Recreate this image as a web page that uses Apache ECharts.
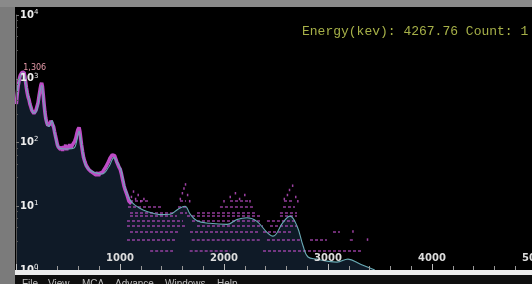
<!DOCTYPE html>
<html>
<head>
<meta charset="utf-8">
<script src="https://cdn.jsdelivr.net/npm/echarts@6/dist/echarts.min.js"></script>
<style>
html,body{margin:0;padding:0;background:#808080;}
#main{width:532px;height:284px;}
</style>
</head>
<body>
<div id="main"></div>
<script>
// 拟合曲线 (energy kev, count)
var fitCurve = [[3,410],[19,750],[45,1150],[62,1230],[77,1200],[95,820],[125,470],[150,330],[173,290],[202,330],[225,560],[247,790],[265,470],[286,230],[317,178],[346,220],[370,145],[404,86],[440,80],[500,79],[558,82],[580,100],[606,150],[625,105],[650,60],[670,44],[710,37],[750,34],[827,32],[894,42],[942,58],[975,48],[1007,38],[1040,22],[1067,16],[1115,11.5],[1190,9.3],[1260,8.3],[1385,7.4],[1481,7.5],[1558,9.0],[1625,10],[1673,7.6],[1740,5.9],[1865,5.4],[2029,5.2],[2125,6.2],[2221,6.6],[2317,5.8],[2413,3.9],[2471,3.4],[2567,5.6],[2635,7.0],[2702,4.9],[2760,2.4],[2808,1.6],[2894,1.48],[2990,1.38],[3087,1.33],[3192,1.48],[3308,1.24],[3385,1.1],[3450,1.0]];

// 实测计数 (高计数段)
var measured = [[3,400],[9,520],[15,640],[21,780],[28,900],[34,1020],[41,1130],[48,1180],[56,1250],[63,1220],[70,1306],[77,1260],[84,1100],[92,900],[100,720],[108,600],[116,520],[125,470],[134,400],[143,360],[152,320],[162,300],[172,285],[182,300],[192,320],[202,340],[212,420],[222,540],[232,680],[240,800],[247,860],[254,760],[262,560],[270,400],[278,300],[286,240],[296,205],[306,185],[316,178],[326,195],[336,220],[346,235],[354,210],[362,175],[370,150],[378,130],[388,110],[398,92],[408,84],[418,90],[428,78],[438,86],[448,74],[458,88],[468,80],[478,92],[488,76],[498,86],[508,80],[518,94],[528,82],[540,90],[552,96],[564,104],[576,118],[586,140],[596,160],[606,172],[614,150],[622,118],[630,92],[640,72],[650,58],[662,50],[674,44],[686,41],[698,38],[710,40],[722,35],[734,37],[746,33],[758,35],[770,31],[782,34],[794,30],[806,33],[818,31],[830,34],[842,36],[854,39],[866,42],[878,46],[890,50],[902,56],[914,60],[926,64],[938,66],[948,62],[958,56],[968,50],[978,46],[990,41],[1002,38],[1014,32],[1026,26],[1038,21],[1050,18],[1062,16],[1074,14],[1086,12],[1098,11.5],[1110,11]];

// 低计数段: [count, energy start, energy end]
var rowSegments = [
    [2,1290,1510],[2,1670,2060],[2,2375,3330],
    [3,1067,1530],[3,1690,2346],[3,2413,2750],[3,2827,2990],[3,3210,3240],
    [4,1096,1577],[4,1673,2346],[4,2375,2663],[4,3048,3115],
    [5,1067,1644],[5,1740,2375],[5,2442,2702],
    [6,1067,1606],[6,1692,2346],[6,2413,2702],
    [7,1096,1548],[7,1644,2346],[7,2538,2702],
    [8,1096,1510],[8,1577,1644],[8,1740,2317],[8,2538,2702],
    [10,1077,1413],[10,1558,1644],[10,1961,2279],[10,2567,2683],
    [12,1096,1288],[12,1577,1635],[12,2058,2250],[12,2577,2673]
];

var sparseDots = [[1110,14],[1130,17],[1150,13],[1175,15],[1200,12],[1230,13],[1580,13],[1600,16],[1615,19],[1630,22],[1650,15],[1670,12],[2000,12],[2060,14],[2110,16],[2150,13],[2200,15],[2250,12],[2580,13],[2610,15],[2630,18],[2660,21],[2690,14],[2710,12],[3380,3],[3240,4]];

var peak = [70, 1306];
var cursorText = 'Energy(kev): 4267.76 Count: 1';
var menuItems = ['File','View','MCA','Advance','Windows','Help'];
var menuX = [22,48,82,115,165,217];

var rowLines = [];
for (var i = 0; i < rowSegments.length; i++) {
    var s = rowSegments[i];
    rowLines.push({coords: [[s[1], s[0]], [s[2], s[0]]]});
}

var graphics = [
    {type:'rect', z:100, shape:{x:0,y:0,width:15,height:284}, style:{fill:'#7b7b7b'}},
    {type:'rect', z:100, shape:{x:0,y:0,width:532,height:7}, style:{fill:'#8a8a8a'}},
    {type:'rect', z:100, shape:{x:15,y:270,width:517,height:5}, style:{fill:'#ececec'}},
    {type:'rect', z:100, shape:{x:15,y:275,width:517,height:9}, style:{fill:'#0e0e0e'}},
    {type:'text', z:101, x:302, y:32, style:{text:cursorText, fill:'#a6b048', font:'13px "Liberation Mono"', verticalAlign:'middle'}}
];
for (var j = 0; j < menuItems.length; j++) {
    graphics.push({type:'text', z:101, x:menuX[j], y:279,
        style:{text:menuItems[j], fill:'#bdbdbd', font:'10px "Liberation Sans"', verticalAlign:'top'}});
}

var chart = echarts.init(document.getElementById('main'));
var option = {
    backgroundColor: '#000',
    animation: false,
    grid: {left: 16, top: 15, right: -4, bottom: 14, containLabel: false, outerBoundsMode: 'none'},
    xAxis: {
        type: 'value',
        min: 0,
        max: 5000,
        interval: 1000,
        z: 10,
        axisLine: {show: false, onZero: false},
        axisTick: {show: true, inside: true, length: 6, lineStyle: {color: '#bbb'}},
        minorTick: {show: true, splitNumber: 5, length: 4, lineStyle: {color: '#999'}},
        splitLine: {show: false},
        axisLabel: {
            inside: true, margin: 7, color: '#dcdcdc', fontSize: 10, fontWeight: 'bold',
            fontFamily: 'DejaVu Sans',
            formatter: function (v) { return v === 0 ? '' : String(v); }
        }
    },
    yAxis: {
        type: 'log',
        logBase: 10,
        min: 1,
        max: 10000,
        z: 10,
        axisLine: {show: true, lineStyle: {color: '#555'}},
        axisTick: {show: true, inside: true, length: 3, lineStyle: {color: '#777'}},
        minorTick: {show: true, splitNumber: 5, length: 2, lineStyle: {color: '#555'}},
        splitLine: {show: false},
        axisLabel: {
            inside: true, margin: 4,
            formatter: function (v) {
                var e = Math.round(Math.log(v) / Math.LN10);
                return '{b|10}{s|' + e + '}';
            },
            rich: {
                b: {fontSize: 10, color: '#eeeeee', fontFamily: 'DejaVu Sans', fontWeight: 'bold'},
                s: {fontSize: 7, color: '#eeeeee', fontFamily: 'DejaVu Sans', verticalAlign: 'top', padding: [0,0,6,0]}
            }
        }
    },
    series: [
        {
            type: 'line',
            data: fitCurve,
            smooth: 0.4,
            symbol: 'none',
            lineStyle: {width: 0},
            areaStyle: {color: '#0f1a27', opacity: 1, origin: 'start'},
            z: 1
        },
        {
            type: 'lines',
            coordinateSystem: 'cartesian2d',
            data: rowLines,
            lineStyle: {color: '#b84cc0', width: 1.6, type: [3, 2], opacity: 0.8},
            z: 2
        },
        {
            type: 'scatter',
            data: sparseDots,
            symbol: 'rect',
            symbolSize: [1.5, 2.5],
            itemStyle: {color: '#b84cc0', opacity: 0.85},
            z: 2
        },
        {
            type: 'line',
            data: measured,
            symbol: 'none',
            lineStyle: {color: '#bd4cc6', width: 3.6},
            markPoint: {
                symbol: 'circle',
                symbolSize: 0,
                data: [{coord: peak, value: peak[1]}],
                label: {
                    show: true, position: 'right', distance: 0, offset: [0, -3],
                    color: '#e59aa9', fontSize: 8, fontFamily: 'DejaVu Sans',
                    formatter: function (p) { return p.value.toLocaleString('en-US'); }
                }
            },
            z: 3
        },
        {
            type: 'line',
            data: fitCurve,
            smooth: 0.4,
            symbol: 'none',
            lineStyle: {color: '#6aabb5', width: 1.1},
            z: 4
        }
    ],
    graphic: graphics
};
chart.setOption(option);
</script>
</body>
</html>
